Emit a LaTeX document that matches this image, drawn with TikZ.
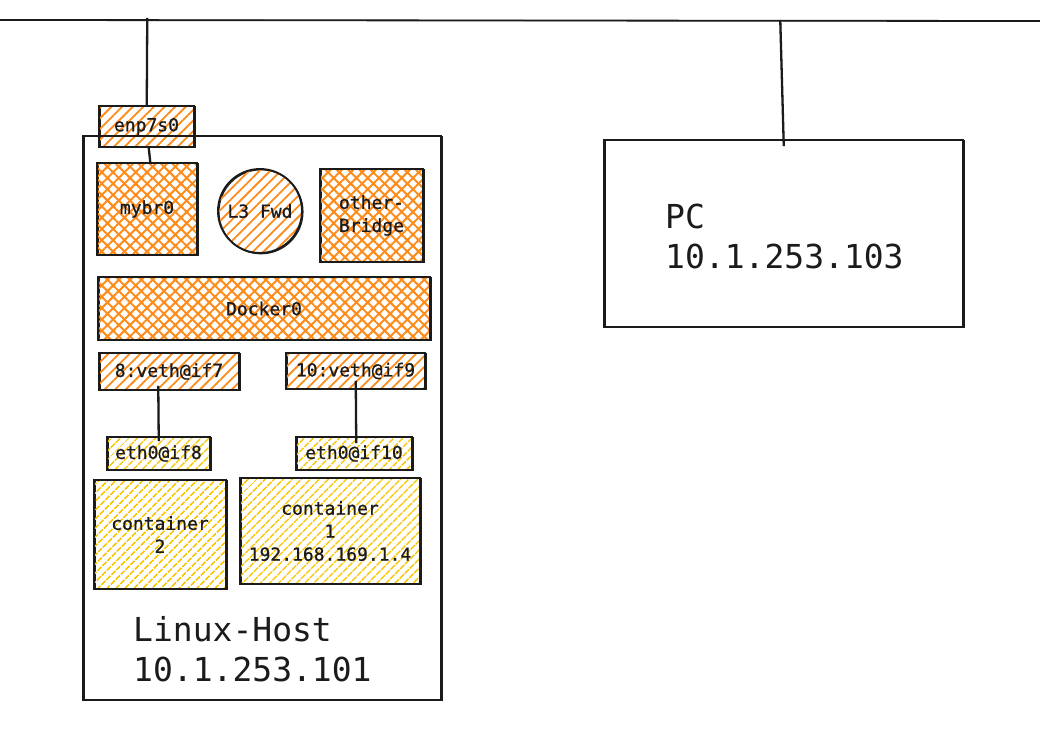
\documentclass[tikz,border=0pt]{standalone}
\usepackage{fontspec}
\setmonofont{DejaVu Sans Mono}
\newfontfamily\labelmono[FakeBold=0.8]{DejaVu Sans Mono}
\usetikzlibrary{patterns.meta}

\definecolor{sketchorange}{HTML}{FD8C1A}
\definecolor{sketchyellow}{HTML}{F7C600}
\definecolor{ink}{HTML}{1B1B1B}

\tikzset{
  % outline drawn twice with a small offset, like a pen sketch
  rough/.style={draw=ink, line width=1.9pt,
    preaction={draw=ink, line width=1.1pt, transform canvas={shift={(1pt,-0.8pt)}}}},
  hatchorange/.style={pattern={Lines[angle=45,distance=7.5pt,line width=1.8pt]}, pattern color=sketchorange},
  crossorange/.style={pattern={Hatch[angle=45,distance=8pt,line width=2pt]}, pattern color=sketchorange},
  hatchyellow/.style={pattern={Lines[angle=45,distance=6.5pt,line width=1.6pt]}, pattern color=sketchyellow},
  small/.style={font=\labelmono\fontsize{18}{23}\selectfont, text=ink, align=center, inner sep=0pt},
  big/.style={font=\ttfamily\fontsize{33}{40}\selectfont, text=ink, align=left, inner sep=0pt},
  box/.style={rough, small, rectangle},
  wire/.style={draw=ink, line width=1.8pt,
    preaction={draw=ink, line width=1pt, transform canvas={shift={(0.9pt,0pt)}}}},
}

\begin{document}
\begin{tikzpicture}[x=1pt,y=-1pt]
\useasboundingbox (0,0) rectangle (1040,738);
\fill[white] (0,0) rectangle (1040,738);

% network bus
\coordinate (busL) at (0,20);
\coordinate (busR) at (1040,21);
\coordinate (tapHost) at (147,18);
\coordinate (tapPC) at (780,20);
\draw[wire] (busL) -- (busR);

% interface on the host uplink
\node[box, hatchorange, minimum width=95, minimum height=41] (enp) at (146.5,126.5) {enp7s0};

% Linux host frame
\node[rough, minimum width=358, minimum height=564, inner sep=0pt] (host) at (262,418) {};

% bridges and forwarding
\node[box, crossorange, minimum width=100, minimum height=92] (mybr) at (147,209) {mybr0};
\node[rough, circle, hatchorange, small, minimum size=84] (fwd) at (260,211) {L3 Fwd};
\node[box, crossorange, minimum width=103, minimum height=93] (other) at (371.5,215.5) {other-\\Bridge};
\node[box, crossorange, minimum width=332, minimum height=63] (docker) at (264,308.5) {Docker0};

% veth pairs
\node[box, hatchorange, minimum width=140, minimum height=37] (veth7) at (169,371.5) {8:veth@if7};
\node[box, hatchorange, minimum width=139, minimum height=36] (veth9) at (355.5,371) {10:veth@if9};
\node[box, hatchyellow, minimum width=103, minimum height=33] (eth8) at (158.5,453.5) {eth0@if8};
\node[box, hatchyellow, minimum width=116, minimum height=33] (eth10) at (354,453.5) {eth0@if10};

% containers
\node[box, hatchyellow, minimum width=132, minimum height=109] (c2) at (160,534.5) {container\\2};
\node[box, hatchyellow, minimum width=180, minimum height=106] (c1) at (330,531) {container\\1\\192.168.169.1.4};

% host label
\node[big, anchor=north west] (hostlbl) at (133,616) {Linux-Host\\10.1.253.101};

% PC
\node[rough, minimum width=359, minimum height=187, inner sep=0pt] (pc) at (783.5,233.5) {};
\node[big, anchor=north west] (pclbl) at (665,204) {PC\\10.1.253.103};

% links
\draw[wire] (tapHost) -- (enp.north);
\draw[wire] (tapPC) -- ([yshift=-7pt]pc.north);
\draw[wire] ([xshift=2pt]enp.south) -- ([xshift=3pt]mybr.north);
\draw[wire] ([xshift=-11pt,yshift=5pt]veth7.south) -- ([yshift=-5pt]eth8.north);
\draw[wire] ([xshift=0pt,yshift=9pt]veth9.south) -- ([xshift=2pt,yshift=-7pt]eth10.north);
\end{tikzpicture}
\end{document}
